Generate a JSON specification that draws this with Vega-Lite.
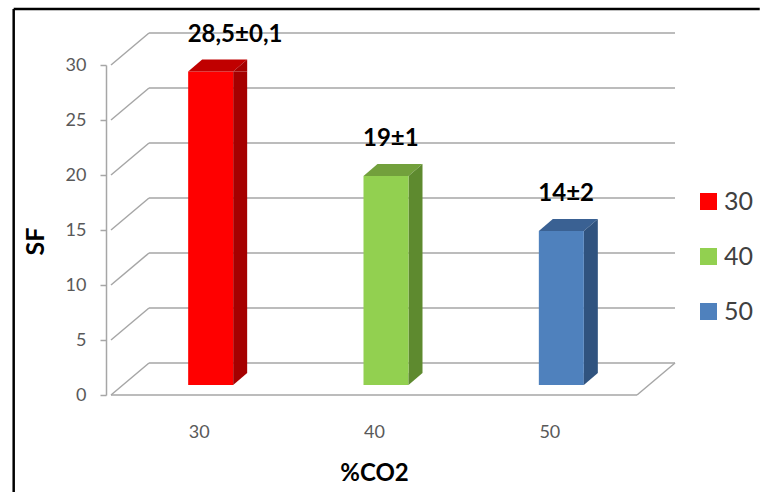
{
  "$schema": "https://vega.github.io/schema/vega-lite/v6.json",
  "autosize": "none",
  "width": 536,
  "height": 330,
  "padding": {"left": 106, "top": 65, "right": 119, "bottom": 97},
  "background": "white",
  "config": {"view": {"stroke": null}, "font": "Lato"},
  "datasets": {
    "bars": [
      {"co2": 30, "sf": 28.5, "label": "28,5±0,1"},
      {"co2": 40, "sf": 19, "label": "19±1"},
      {"co2": 50, "sf": 14, "label": "14±2"}
    ],
    "grid": [{"v": 0}, {"v": 5}, {"v": 10}, {"v": 15}, {"v": 20}, {"v": 25}, {"v": 30}],
    "one": [{}]
  },
  "resolve": {"scale": {"color": "independent"}},
  "layer": [
    {
      "data": {"name": "grid"},
      "mark": {"type": "rule", "stroke": "#a6a6a6", "strokeWidth": 1.5, "xOffset": 38, "x2Offset": 38, "yOffset": -32, "y2Offset": -32},
      "encoding": {
        "x": {"datum": 25, "type": "quantitative", "scale": {"domain": [25, 55], "nice": false, "zero": false},
          "axis": {"values": [30, 40, 50], "ticks": false, "domain": false, "grid": false, "labelFont": "Lato", "labelFontSize": 18, "labelColor": "#595959", "labelPadding": 28, "title": "%CO2", "titleFont": "Lato", "titleFontSize": 24, "titleFontWeight": "bold", "titleColor": "#000000", "titlePadding": 20}},
        "x2": {"datum": 55},
        "y": {"field": "v", "type": "quantitative", "scale": {"domain": [0, 30], "nice": false},
          "axis": {"values": [0, 5, 10, 15, 20, 25, 30], "grid": false, "tickSize": 6, "tickColor": "#a6a6a6", "tickWidth": 1.5, "domainColor": "#a6a6a6", "domainWidth": 1.5, "labelFont": "Lato", "labelFontSize": 18, "labelColor": "#595959", "labelPadding": 14, "title": "SF", "titleFont": "Lato", "titleFontSize": 25, "titleFontWeight": "bold", "titleColor": "#000000", "titleX": -71, "titleY": 176, "titleAngle": -90, "titleAlign": "center", "titleBaseline": "middle"}},
        "y2": {"field": "v"}
      }
    },
    {
      "data": {"name": "grid"},
      "mark": {"type": "rule", "stroke": "#a6a6a6", "strokeWidth": 1.5, "x2Offset": 38, "y2Offset": -32},
      "encoding": {
        "x": {"datum": 25, "type": "quantitative"},
        "x2": {"datum": 25},
        "y": {"field": "v", "type": "quantitative"},
        "y2": {"field": "v"}
      }
    },
    {
      "data": {"name": "one"},
      "mark": {"type": "rule", "stroke": "#a6a6a6", "strokeWidth": 1.5},
      "encoding": {
        "x": {"datum": 25, "type": "quantitative"},
        "x2": {"datum": 55},
        "y": {"datum": 0, "type": "quantitative"}
      }
    },
    {
      "data": {"name": "one"},
      "mark": {"type": "rule", "stroke": "#a6a6a6", "strokeWidth": 1.5, "x2Offset": 38, "y2Offset": -32},
      "encoding": {
        "x": {"datum": 55, "type": "quantitative"},
        "x2": {"datum": 55},
        "y": {"datum": 0, "type": "quantitative"},
        "y2": {"datum": 0}
      }
    },
    {
      "data": {"name": "bars"},
      "mark": {"type": "bar", "width": 14, "xOffset": 41.5, "yOffset": -10, "y2Offset": -22},
      "encoding": {
        "x": {"field": "co2", "type": "quantitative"},
        "y": {"field": "sf", "type": "quantitative"},
        "y2": {"datum": 0},
        "color": {"field": "co2", "type": "nominal", "scale": {"domain": [30, 40, 50], "range": ["#a50000", "#5e8a2f", "#30537f"]}, "legend": null}
      }
    },
    {
      "data": {"name": "bars"},
      "mark": {"type": "bar", "width": 45, "xOffset": 12, "yOffset": -10, "y2Offset": -10},
      "encoding": {
        "x": {"field": "co2", "type": "quantitative"},
        "y": {"field": "sf", "type": "quantitative"},
        "y2": {"datum": 0},
        "color": {"field": "co2", "type": "nominal", "scale": {"domain": [30, 40, 50], "range": ["#ff0000", "#92d050", "#4f81bd"]},
          "legend": {"title": null, "orient": "none", "legendX": 590, "legendY": 124, "symbolType": "square", "symbolSize": 289, "symbolStrokeWidth": 0, "labelFont": "Lato", "labelFontSize": 25, "labelColor": "#404040", "labelOffset": 3, "rowPadding": 29}}
      }
    },
    {
      "data": {"name": "bars"},
      "mark": {"type": "point", "shape": "M-22.5,0L22.5,0L36.5,-12L-8.5,-12Z", "size": 4, "filled": true, "opacity": 1, "strokeWidth": 0, "xOffset": 12, "yOffset": -10},
      "encoding": {
        "x": {"field": "co2", "type": "quantitative"},
        "y": {"field": "sf", "type": "quantitative"},
        "color": {"field": "co2", "type": "nominal", "scale": {"domain": [30, 40, 50], "range": ["#c00000", "#72a03c", "#3a6193"]}, "legend": null}
      }
    },
    {
      "data": {"name": "bars"},
      "mark": {"type": "point", "shape": "M22.5,0L36.5,-12L36.5,0Z", "size": 4, "filled": true, "opacity": 1, "strokeWidth": 0, "xOffset": 12, "yOffset": -10},
      "encoding": {
        "x": {"field": "co2", "type": "quantitative"},
        "y": {"field": "sf", "type": "quantitative"},
        "color": {"field": "co2", "type": "nominal", "scale": {"domain": [30, 40, 50], "range": ["#a50000", "#5e8a2f", "#30537f"]}, "legend": null}
      }
    },
    {
      "data": {"name": "bars"},
      "mark": {"type": "point", "shape": "M22.5,0L22.5,-12L36.5,-12Z", "size": 4, "filled": true, "opacity": 1, "strokeWidth": 0, "xOffset": 12, "yOffset": -10},
      "encoding": {
        "x": {"field": "co2", "type": "quantitative"},
        "y": {"datum": 0, "type": "quantitative"},
        "color": {"field": "co2", "type": "nominal", "scale": {"domain": [30, 40, 50], "range": ["#a50000", "#5e8a2f", "#30537f"]}, "legend": null}
      }
    },
    {
      "data": {"name": "bars"},
      "mark": {"type": "text", "align": "left", "baseline": "alphabetic", "dx": -11, "dy": -40, "font": "Lato", "fontSize": 24, "fontWeight": "bold", "color": "#000000"},
      "encoding": {
        "x": {"field": "co2", "type": "quantitative"},
        "y": {"field": "sf", "type": "quantitative"},
        "text": {"field": "label"}
      }
    },
    {
      "data": {"name": "one"},
      "mark": {"type": "rule", "stroke": "#000000", "strokeWidth": 2.5},
      "encoding": {
        "x": {"datum": 19.45, "type": "quantitative"},
        "x2": {"datum": 62},
        "y": {"datum": 35.1, "type": "quantitative"}
      }
    },
    {
      "data": {"name": "one"},
      "mark": {"type": "rule", "stroke": "#000000", "strokeWidth": 2.5},
      "encoding": {
        "x": {"datum": 19.45, "type": "quantitative"},
        "y": {"datum": 35.1, "type": "quantitative"},
        "y2": {"datum": -9}
      }
    }
  ]
}
